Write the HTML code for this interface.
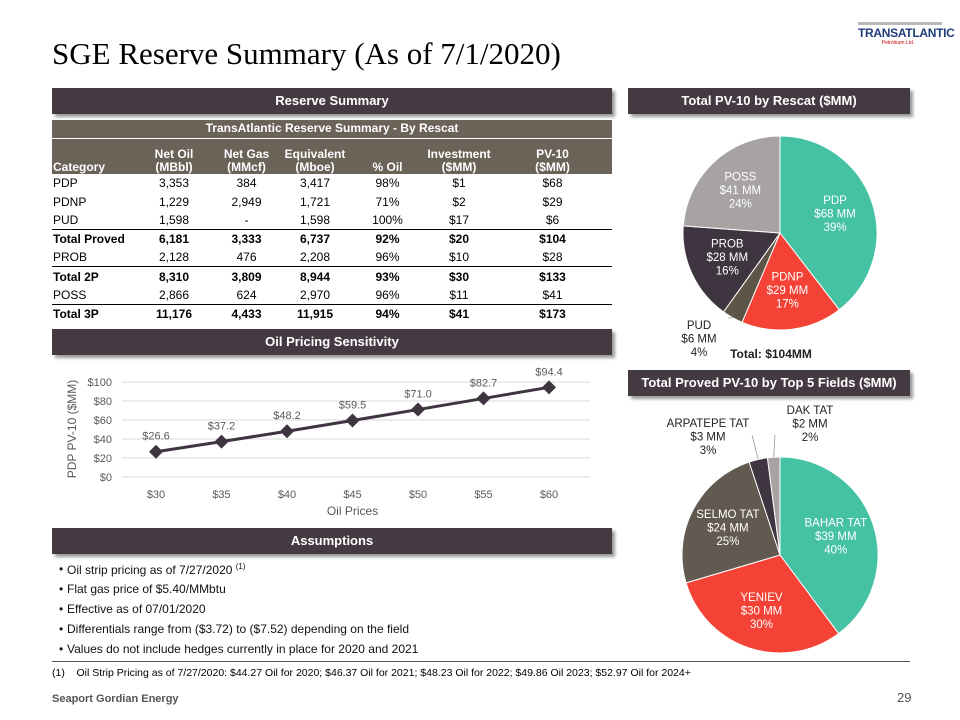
<!DOCTYPE html>
<html><head><meta charset="utf-8">
<style>
body{margin:0;background:#fff;}
#page{position:relative;width:960px;height:720px;overflow:hidden;font-family:"Liberation Sans",Arial,sans-serif;color:#000;}
.abs{position:absolute;}
.bar{position:absolute;background:#463a42;color:#fff;font-weight:bold;font-size:13px;text-align:center;line-height:26px;height:26px;box-shadow:3px 3px 3px #999;}
table{border-collapse:collapse;font-size:12px;table-layout:fixed;}
td{padding:0;height:18.6px;line-height:14px;text-align:center;box-sizing:border-box;}
td.c{text-align:left;padding-left:1px;}
tr.b td{font-weight:bold;}
tr.t td{border-top:1.5px solid #000;}
.hd td{background:#6b6258;color:#fff;font-weight:bold;line-height:13px;}
ul{margin:0;padding:0;list-style:none;}
li{font-size:12px;height:20px;position:relative;padding-left:10px;color:#111;}
li:before{content:"•";position:absolute;left:2px;}
</style></head><body>
<div id="page">
<div class="abs" style="left:52px;top:36px;font-family:'Liberation Serif',serif;font-size:31px;">SGE Reserve Summary (As of 7/1/2020)</div>
<div class="abs" style="left:858px;top:18px;width:90px;height:28px;">
 <div style="height:3px;background:#bbb;width:84px;margin-top:4px;"></div>
 <div style="font-weight:bold;color:#1f3c7a;font-size:12px;letter-spacing:-0.3px;margin-top:1px;">TRANSATLANTIC</div>
 <div style="font-size:5px;color:#c00;text-align:center;margin-left:-10px;">Petroleum Ltd.</div>
</div>

<div class="bar" style="left:52px;top:88px;width:560px;">Reserve Summary</div>
<div class="abs" style="left:52px;top:120px;width:560px;">
<table style="width:560px;">
<colgroup><col style="width:83px"><col style="width:78px"><col style="width:67px"><col style="width:70px"><col style="width:75px"><col style="width:68px"><col style="width:119px"></colgroup>
<tr class="hd"><td colspan="7" style="height:18px;border-bottom:1px solid #fff;">TransAtlantic Reserve Summary - By Rescat</td></tr>
<tr class="hd" style="vertical-align:bottom;"><td class="c" style="height:36px;">Category</td><td>Net Oil<br>(MBbl)</td><td>Net Gas<br>(MMcf)</td><td>Equivalent<br>(Mboe)</td><td>% Oil</td><td>Investment<br>($MM)</td><td>PV-10<br>($MM)</td></tr>
<tr><td class="c">PDP</td><td>3,353</td><td>384</td><td>3,417</td><td>98%</td><td>$1</td><td>$68</td></tr>
<tr><td class="c">PDNP</td><td>1,229</td><td>2,949</td><td>1,721</td><td>71%</td><td>$2</td><td>$29</td></tr>
<tr><td class="c">PUD</td><td>1,598</td><td>-</td><td>1,598</td><td>100%</td><td>$17</td><td>$6</td></tr>
<tr class="b t"><td class="c">Total Proved</td><td>6,181</td><td>3,333</td><td>6,737</td><td>92%</td><td>$20</td><td>$104</td></tr>
<tr><td class="c">PROB</td><td>2,128</td><td>476</td><td>2,208</td><td>96%</td><td>$10</td><td>$28</td></tr>
<tr class="b t"><td class="c">Total 2P</td><td>8,310</td><td>3,809</td><td>8,944</td><td>93%</td><td>$30</td><td>$133</td></tr>
<tr><td class="c">POSS</td><td>2,866</td><td>624</td><td>2,970</td><td>96%</td><td>$11</td><td>$41</td></tr>
<tr class="b t"><td class="c">Total 3P</td><td>11,176</td><td>4,433</td><td>11,915</td><td>94%</td><td>$41</td><td>$173</td></tr>
</table></div>

<div class="bar" style="left:52px;top:329px;width:560px;">Oil Pricing Sensitivity</div>
<div class="bar" style="left:52px;top:528px;width:560px;">Assumptions</div>
<ul class="abs" style="left:57px;top:562px;">
<li>Oil strip pricing as of 7/27/2020 <sup style="font-size:8px">(1)</sup></li>
<li>Flat gas price of $5.40/MMbtu</li>
<li>Effective as of 07/01/2020</li>
<li>Differentials range from ($3.72) to ($7.52) depending on the field</li>
<li>Values do not include hedges currently in place for 2020 and 2021</li>
</ul>
<div class="abs" style="left:52px;top:661px;width:858px;height:1px;background:#555;"></div>
<div class="abs" style="left:52px;top:667px;font-size:10.5px;">(1)&nbsp;&nbsp;&nbsp; Oil Strip Pricing as of 7/27/2020: $44.27 Oil for 2020; $46.37 Oil for 2021; $48.23 Oil for 2022; $49.86 Oil 2023; $52.97 Oil for 2024+</div>
<div class="abs" style="left:52px;top:693px;font-size:11px;font-weight:bold;color:#555;">Seaport Gordian Energy</div>
<div class="abs" style="left:897px;top:690px;font-size:13px;color:#555;">29</div>

<div class="bar" style="left:628px;top:88px;width:282px;">Total PV-10 by Rescat ($MM)</div>
<div class="bar" style="left:628px;top:370px;width:282px;">Total Proved PV-10 by Top 5 Fields ($MM)</div>

<svg id="charts" class="abs" style="left:0;top:0" width="960" height="720" font-family="Liberation Sans, Arial, sans-serif"></svg>
</div>
<script>
const prices=["$30","$35","$40","$45","$50","$55","$60"];
const pv10=[26.6,37.2,48.2,59.5,71.0,82.7,94.4];
const yTicks=[0,20,40,60,80,100];
const rescatNames=["PDP","PDNP","PUD","PROB","POSS"];
const rescatValues=[68,29,6,28,41];
const rescatPct=["39%","17%","4%","16%","24%"];
const fieldNames=["BAHAR TAT","YENIEV","SELMO  TAT","ARPATEPE  TAT","DAK TAT"];
const fieldValues=[39,30,24,3,2];
const fieldPct=["40%","30%","25%","3%","2%"];

const NS="http://www.w3.org/2000/svg";
const svg=document.getElementById('charts');
function mk(tag,at,parent){const e=document.createElementNS(NS,tag);for(const k in at)e.setAttribute(k,at[k]);(parent||svg).appendChild(e);return e;}
function txt(s,x,y,at){const e=mk('text',Object.assign({x:x,y:y,'text-anchor':'middle','font-size':11},at||{}));e.textContent=s;return e;}

// line chart
const x0=156,x1=549,yb=477,yt=382,gl=122,gr=590;
const xs=i=>x0+(x1-x0)*i/(prices.length-1);
const ys=v=>yb-(yb-yt)*v/100;
yTicks.forEach(t=>{
 const g=mk('line',{x1:gl,x2:gr,y1:ys(t),y2:ys(t),stroke:'#d9d9d9','stroke-width':1});
 
 
 const l=txt('$'+t,112,ys(t)+4,{'text-anchor':'end',fill:'#595959','font-size':11});
 
 
});
prices.forEach((p,i)=>{
 const l=txt(p,xs(i),498,{fill:'#595959','font-size':11});
 
 
});
const xt=txt('Oil Prices',(x0+x1)/2,515,{fill:'#595959','font-size':12});


const yt2=txt('PDP PV-10 ($MM)',0,0,{fill:'#595959','font-size':12,transform:'translate(76,429) rotate(-90)'});


const line=mk('polyline',{points:pv10.map((v,i)=>xs(i)+','+ys(v)).join(' '),fill:'none',stroke:'#3f3540','stroke-width':3});


pv10.forEach((v,i)=>{
 const cx=xs(i),cy=ys(v);
 const m=mk('polygon',{points:`${cx},${cy-7} ${cx+7},${cy} ${cx},${cy+7} ${cx-7},${cy}`,fill:'#3f3540'});
 
 
 const l=txt('$'+v.toFixed(1),cx,cy-12,{fill:'#595959','font-size':11});
 
 
});

// pies
function pie(cx,cy,r,names,vals,pcts,colors,labelPos,prefix){
 const tot=vals.reduce((a,b)=>a+b,0);let a=-Math.PI/2;
 vals.forEach((v,i)=>{
  const a2=a+v/tot*2*Math.PI;
  const p1=[cx+r*Math.cos(a),cy+r*Math.sin(a)],p2=[cx+r*Math.cos(a2),cy+r*Math.sin(a2)];
  const large=(a2-a)>Math.PI?1:0;
  const s=mk('path',{d:`M${cx},${cy} L${p1[0]},${p1[1]} A${r},${r} 0 ${large} 1 ${p2[0]},${p2[1]} Z`,fill:colors[i],stroke:'#fff','stroke-width':1});
  
  
  const mid=(a+a2)/2;
  let lx,ly,col='#fff';
  if(labelPos[i]){lx=labelPos[i][0];ly=labelPos[i][1];col='#222';
   const lk=mk('line',{x1:cx+r*Math.cos(mid),y1:cy+r*Math.sin(mid),x2:labelPos[i][2],y2:labelPos[i][3],stroke:'#999','stroke-width':0.8});
   
   
  } else {lx=cx+r*0.6*Math.cos(mid);ly=cy+r*0.6*Math.sin(mid)-10;}
  const g=mk('g',{});
  
  
  [names[i],'$'+vals[i]+' MM',pcts[i]].forEach((s2,k)=>{const t=txt(s2,lx,ly+k*13.5,{fill:col,'font-size':11.5});g.appendChild(t);});
  a=a2;
 });
}
pie(780,233,97,rescatNames,rescatValues,rescatPct,['#45c1a4','#f44336','#5e5548','#3f3540','#a7a3a3'],[null,null,[699,329,728,318],null,null],'rescat');
const tl=txt('Total: $104MM',771,358,{'font-size':12,'font-weight':'bold',fill:'#222'});


pie(780,555,98,fieldNames,fieldValues,fieldPct,['#45c1a4','#f44336','#625a50','#3f3540','#a7a3a3'],[null,null,null,[708,427,752,435],[810,414,775,435]],'fields');
</script>
</body></html>
